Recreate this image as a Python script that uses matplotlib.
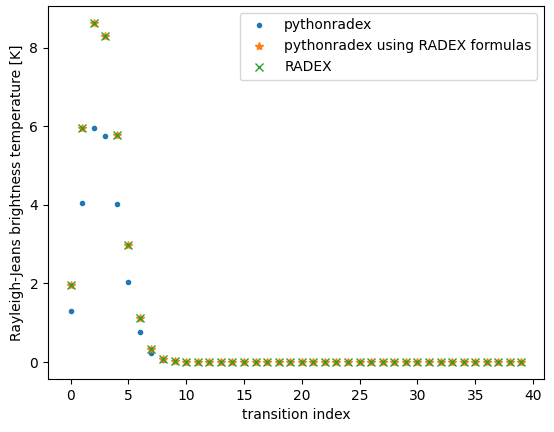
import numpy as np
import matplotlib
matplotlib.use('Agg')
import matplotlib.pyplot as plt

# brightness temperatures (K)
n_trans = 40
transition = np.arange(n_trans)

T_pythonradex = [1.31, 4.06, 5.96, 5.76, 4.01, 2.03, 0.77, 0.23, 0.06, 0.015] + [0.0] * 30
T_radex_formulas = [1.95, 5.95, 8.63, 8.30, 5.77, 2.98, 1.13, 0.34, 0.08, 0.02] + [0.0] * 30
T_radex = [1.95, 5.95, 8.63, 8.30, 5.77, 2.98, 1.13, 0.34, 0.08, 0.02] + [0.0] * 30

fig = plt.figure(figsize=(5.54, 4.32), dpi=100)
ax = fig.add_axes([48 / 554, 1 - 379 / 432, 496 / 554, 373 / 432])

ax.plot(transition, T_pythonradex, '.', label='pythonradex')
ax.plot(transition, T_radex_formulas, '*', label='pythonradex using RADEX formulas')
ax.plot(transition, T_radex, 'x', label='RADEX')

ax.set_xlabel('transition index')
ax.set_ylabel('Rayleigh-Jeans brightness temperature [K]')
ax.legend(loc='upper right')

fig.savefig('out.png', dpi=100)
